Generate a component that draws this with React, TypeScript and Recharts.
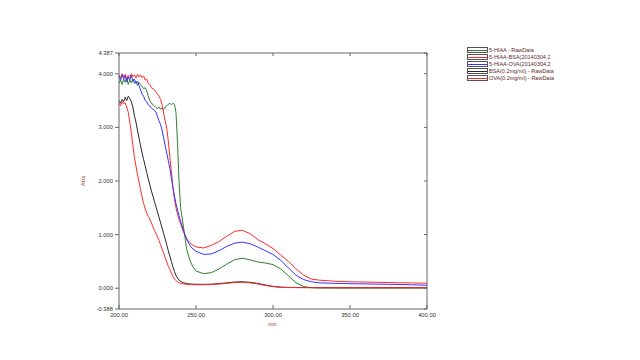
import { LineChart, Line, XAxis, YAxis } from 'recharts';

// wavelength (nm)
const wavelengths = [
  200, 201, 202, 203, 204, 205, 206, 207, 208, 209,
  210, 211, 212, 213, 214, 215, 216, 217, 218, 219,
  220, 221, 222, 223, 224, 225, 226, 227, 228, 229,
  230, 231, 232, 233, 234, 235, 236, 237, 238, 239,
  240, 242, 244, 246, 248, 250,
  255, 260, 265, 270, 275, 280, 285, 290, 295, 300,
  305, 310, 315, 320, 325, 330, 335, 340, 345, 350,
  355, 360, 365, 370, 375, 380, 385, 390, 395, 400,
];

const hiaa = [
  3.82, 3.88, 3.80, 3.90, 3.84, 3.92, 3.80, 3.88, 3.83, 3.90,
  3.82, 3.86, 3.78, 3.84, 3.80, 3.76, 3.72, 3.74, 3.68, 3.58,
  3.50, 3.46, 3.42, 3.40, 3.37, 3.35, 3.38, 3.34, 3.36, 3.33,
  3.38, 3.40, 3.43, 3.45, 3.42, 3.45, 3.43, 3.28, 2.70, 2.00,
  1.50, 1.12, 0.72, 0.52, 0.40, 0.32,
  0.27, 0.29, 0.36, 0.45, 0.53, 0.56, 0.53, 0.49, 0.47, 0.44,
  0.36, 0.23, 0.10, 0.03, 0.008, 0.004, 0.003, 0.003, 0.003, 0.003,
  0.003, 0.003, 0.003, 0.003, 0.003, 0.003, 0.003, 0.003, 0.003, 0.003,
];

const hiaaBsa = [
  3.98, 3.92, 4.00, 3.94, 3.99, 3.90, 3.97, 3.93, 4.00, 3.95,
  3.98, 3.92, 3.99, 3.94, 3.98, 3.93, 3.96, 3.88, 3.90, 3.82,
  3.80, 3.74, 3.72, 3.70, 3.66, 3.62, 3.58, 3.52, 3.42, 3.26,
  3.12, 2.98, 2.75, 2.45, 2.18, 1.88, 1.66, 1.50, 1.38, 1.28,
  1.20, 1.04, 0.92, 0.85, 0.80, 0.77,
  0.75, 0.80, 0.87, 0.97, 1.06, 1.08, 1.02, 0.91, 0.83, 0.74,
  0.62, 0.50, 0.36, 0.24, 0.17, 0.15, 0.14, 0.13, 0.125, 0.12,
  0.117, 0.114, 0.111, 0.108, 0.105, 0.102, 0.1, 0.098, 0.095, 0.093,
];

const hiaaOva = [
  3.95, 3.88, 3.98, 3.90, 3.96, 3.85, 3.94, 3.88, 3.97, 3.86,
  3.90, 3.82, 3.86, 3.78, 3.70, 3.62, 3.58, 3.50, 3.48, 3.42,
  3.40, 3.36, 3.34, 3.32, 3.28, 3.20, 3.12, 3.05, 2.95, 2.80,
  2.66, 2.52, 2.38, 2.24, 2.06, 1.88, 1.72, 1.58, 1.46, 1.35,
  1.25, 1.06, 0.91, 0.80, 0.73, 0.69,
  0.63, 0.64, 0.70, 0.78, 0.84, 0.86, 0.83, 0.77, 0.70, 0.63,
  0.52, 0.38, 0.24, 0.16, 0.12, 0.10, 0.095, 0.09, 0.088, 0.085,
  0.082, 0.08, 0.077, 0.075, 0.072, 0.07, 0.067, 0.064, 0.06, 0.056,
];

const bsa = [
  3.50, 3.45, 3.52, 3.48, 3.56, 3.50, 3.58, 3.54, 3.48, 3.38,
  3.22, 3.10, 2.95, 2.80, 2.66, 2.52, 2.40, 2.28, 2.16, 2.04,
  1.93, 1.82, 1.72, 1.62, 1.52, 1.42, 1.32, 1.22, 1.12, 1.02,
  0.92, 0.81, 0.70, 0.60, 0.50, 0.40, 0.31, 0.24, 0.19, 0.15,
  0.13, 0.10, 0.085, 0.078, 0.075, 0.073,
  0.072, 0.075, 0.085, 0.10, 0.115, 0.12, 0.11, 0.09, 0.06, 0.035,
  0.02, 0.015, 0.013, 0.012, 0.012, 0.011, 0.011, 0.011, 0.01, 0.01,
  0.01, 0.01, 0.01, 0.01, 0.01, 0.01, 0.01, 0.01, 0.01, 0.01,
];

const ova = [
  3.45, 3.40, 3.48, 3.44, 3.46, 3.38, 3.28, 3.10, 2.90, 2.66,
  2.44, 2.28, 2.12, 1.98, 1.84, 1.70, 1.58, 1.48, 1.40, 1.34,
  1.29, 1.22, 1.15, 1.08, 1.02, 0.96, 0.89, 0.81, 0.73, 0.65,
  0.57, 0.49, 0.41, 0.35, 0.28, 0.22, 0.17, 0.14, 0.12, 0.10,
  0.09, 0.08, 0.072, 0.068, 0.066, 0.065,
  0.065, 0.068, 0.078, 0.09, 0.105, 0.11, 0.10, 0.08, 0.05, 0.03,
  0.015, 0.012, 0.011, 0.01, 0.01, 0.01, 0.01, 0.01, 0.01, 0.01,
  0.01, 0.01, 0.01, 0.01, 0.01, 0.01, 0.01, 0.01, 0.01, 0.01,
];

const xTicks = [200, 250, 300, 350, 400];
const yTicks = [-0.388, 0, 1, 2, 3, 4, 4.387];

const series = [
  { key: 'hiaa', name: '5-HIAA - RawData', color: '#2f7f2f' },
  { key: 'hiaaBsa', name: '5-HIAA-BSA(20140304,2', color: '#ff2a2a' },
  { key: 'hiaaOva', name: '5-HIAA-OVA(20140304,2', color: '#3333ff' },
  { key: 'bsa', name: 'BSA(0.2mg/ml) - RawData', color: '#262626' },
  { key: 'ova', name: 'OVA(0.2mg/ml) - RawData', color: '#ff2a2a' },
];

const data = wavelengths.map((nm, i) => ({
  nm,
  hiaa: hiaa[i],
  hiaaBsa: hiaaBsa[i],
  hiaaOva: hiaaOva[i],
  bsa: bsa[i],
  ova: ova[i],
}));

const font = '"Liberation Sans", Arial, sans-serif';
const axisColor = '#666';
const tickStyle = { fontSize: 5.8, fill: '#333', fontFamily: font };

export default function App() {
  return (
    <div style={{ position: 'absolute', left: 0, top: 0, width: 640, height: 360, background: '#fff' }}>
      <LineChart
        width={640}
        height={360}
        data={data}
        margin={{ top: 53, right: 213, bottom: 21, left: 47 }}
      >
        <XAxis
          xAxisId="bottom"
          dataKey="nm"
          type="number"
          domain={[200, 400]}
          ticks={xTicks}
          height={30}
          stroke={axisColor}
          tickSize={-4}
          tickMargin={8}
          tick={tickStyle}
          tickFormatter={(v: number) => v.toFixed(2)}
          label={{ value: 'nm.', position: 'insideTop', offset: 13, fill: '#8b3a3a', fontSize: 5.8, fontFamily: font }}
        />
        <XAxis
          xAxisId="top"
          dataKey="nm"
          type="number"
          orientation="top"
          domain={[200, 400]}
          ticks={xTicks}
          height={1}
          mirror
          stroke={axisColor}
          tickSize={3}
          tickFormatter={() => ''}
        />
        <YAxis
          yAxisId="left"
          type="number"
          domain={[-0.388, 4.387]}
          ticks={yTicks}
          allowDataOverflow
          width={72}
          stroke={axisColor}
          tickSize={4}
          tickMargin={2}
          tick={tickStyle}
          tickFormatter={(v: number) => v.toFixed(3)}
          label={{ value: 'Abs', angle: -90, position: 'center', fill: '#8b3a3a', fontSize: 6, fontFamily: font }}
        />
        <YAxis
          yAxisId="right"
          orientation="right"
          type="number"
          domain={[-0.388, 4.387]}
          ticks={yTicks}
          allowDataOverflow
          width={1}
          mirror
          stroke={axisColor}
          tickSize={3}
          tickFormatter={() => ''}
        />
        {series.map((s) => (
          <Line
            key={s.key}
            xAxisId="bottom"
            yAxisId="left"
            type="linear"
            dataKey={s.key}
            name={s.name}
            stroke={s.color}
            strokeWidth={1}
            dot={false}
            isAnimationActive={false}
          />
        ))}
      </LineChart>

      <div style={{ position: 'absolute', left: 467, top: 46.5, fontFamily: font }}>
        {series.map((s) => (
          <div key={s.key} style={{ display: 'flex', alignItems: 'center', height: 7 }}>
            <div
              style={{
                width: 19,
                height: 4,
                border: '1px solid #555',
                position: 'relative',
                boxSizing: 'content-box',
              }}
            >
              <div style={{ position: 'absolute', left: 0, right: 0, top: 1.5, height: 1, background: s.color }} />
            </div>
            <span
              style={{
                fontSize: 5.5,
                color: '#5a2a2a',
                marginLeft: 1,
                whiteSpace: 'nowrap',
                lineHeight: '7px',
                maxWidth: 66,
                overflow: 'hidden',
                display: 'inline-block',
              }}
            >
              {s.name}
            </span>
          </div>
        ))}
      </div>
    </div>
  );
}
